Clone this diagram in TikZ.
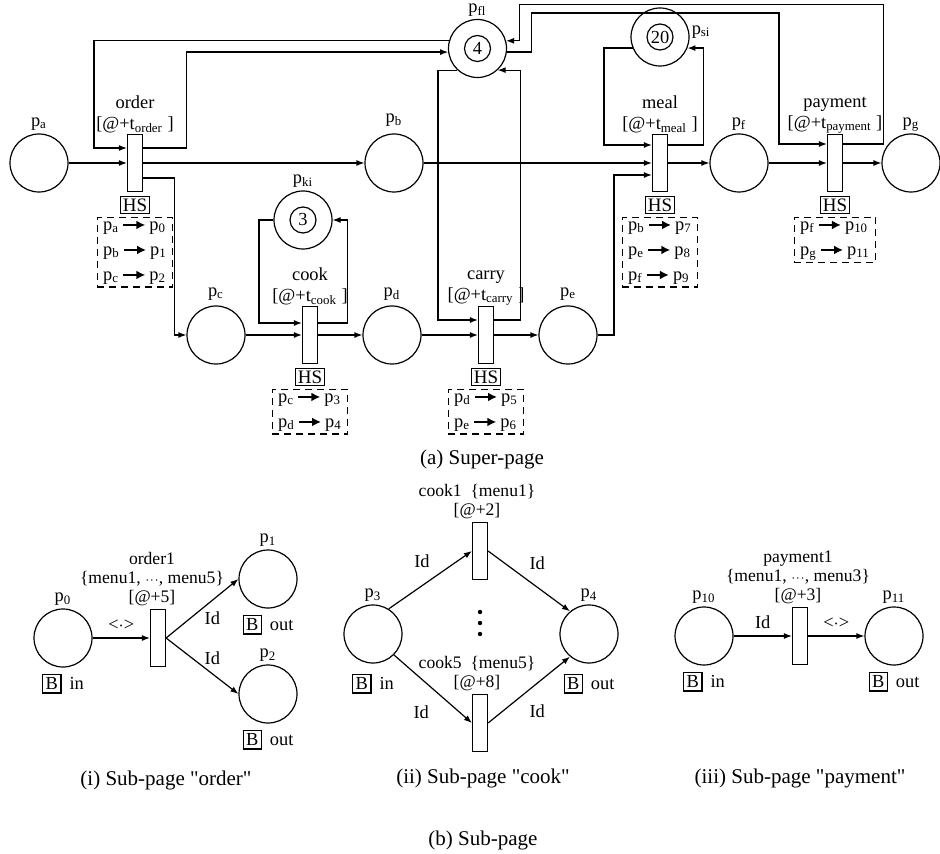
\documentclass[tikz,border=0pt]{standalone}
\usepackage{fontspec}
\setmainfont{Liberation Serif}
\usetikzlibrary{arrows.meta,positioning,calc}
\setlength{\fboxsep}{1.2pt}
\setlength{\fboxrule}{0.6pt}

\tikzset{
  place/.style={draw,circle,minimum size=29pt,inner sep=0pt},
  token/.style={draw,circle,minimum size=13pt,inner sep=0pt},
  trans/.style={draw,rectangle,minimum width=7.5pt,minimum height=28.5pt,inner sep=0pt},
  arc/.style={-{Latex[length=4pt,width=3pt]}},
  hsbox/.style={draw,inner sep=1pt,font=\fontsize{9.5}{10}\selectfont},
  mapbox/.style={draw,dashed,dash pattern=on 3.5pt off 2.5pt,align=left,inner xsep=3pt,inner ysep=1.5pt,font=\fontsize{9.2}{12.5}\selectfont},
  tlbl/.style={align=center,inner sep=1pt},
  sublbl/.style={align=center,inner sep=1pt,font=\fontsize{8.8}{9.5}\selectfont},
  port/.style={inner sep=0pt},
  caption/.style={font=\fontsize{10.5}{12}\selectfont},
  plbl/.style={inner sep=1pt},
}
\newcommand{\pp}[1]{p\textsubscript{#1}}
\newcommand{\maparrow}{\,\tikz[x=1pt,y=1pt,baseline=-0.6ex]\draw[line width=1.1pt,-{Latex[length=4.5pt,width=4.5pt]}] (0,0) -- (11,0);\,}
\newcommand{\bport}[1]{\fbox{B}\hspace{4pt}#1}
\newcommand{\dotsm}{$\scriptstyle{\cdot}{\cdot}{\cdot}$}
\newcommand{\qq}[1]{\textquotedbl #1\textquotedbl}

\begin{document}
\begin{tikzpicture}[x=0.5pt,y=-0.5pt,line width=0.6pt,every node/.style={font=\fontsize{9.2}{10.5}\selectfont}]
  \useasboundingbox (0,0) rectangle (940,854);

  % (a) super-page
  \node[place,label={[plbl]above:\pp{a}}] (pa) at (39,163) {};
  \node[trans] (order) at (135,163) {};
  \node[place,label={[plbl,label distance=2pt]above:\pp{b}}] (pb) at (394,163) {};
  \node[place,label={[plbl,label distance=1pt]above:\pp{c}}] (pc) at (216,335) {};
  \node[trans] (cook) at (310,335) {};
  \node[place,label={[plbl]above:\pp{ki}}] (pki) at (303,220) {};
  \node[token] at (pki) {3};
  \node[place,label={[plbl,label distance=1pt]above:\pp{d}}] (pd) at (392,335) {};
  \node[trans] (carry) at (486,335) {};
  \node[place,label={[plbl]above:\pp{fl}}] (pfl) at (477.5,48.5) {};
  \node[token] at (pfl) {4};
  \node[place,label={[plbl,label distance=1pt]above:\pp{e}}] (pe) at (568,335) {};
  \node[trans] (meal) at (660,163) {};
  \node[place,label={[plbl,anchor=west]10:\pp{si}}] (psi) at (660,37) {};
  \node[token] at (psi) {20};
  \node[place,label={[plbl]above:\pp{f}}] (pf) at (739,163) {};
  \node[trans] (payment) at (835,163) {};
  \node[place,label={[plbl]above:\pp{g}}] (pg) at (911,163) {};

  \node[tlbl,above=-1pt of order] {order\\{[}@+t\textsubscript{order} ]};
  \node[tlbl,above=-1pt of cook] {cook\\{[}@+t\textsubscript{cook} ]};
  \node[tlbl,above=-1pt of carry] {carry\\{[}@+t\textsubscript{carry} ]};
  \node[tlbl,above=-1pt of meal] {meal\\{[}@+t\textsubscript{meal} ]};
  \node[tlbl,above=-1pt of payment] {payment\\{[}@+t\textsubscript{payment} ]};

  \node[hsbox,below=2pt of order] (orderhs) {HS};
  \node[mapbox,below=1.5pt of orderhs] (ordermap) {\pp{a}\maparrow\pp{0}\\\pp{b}\maparrow\pp{1}\\\pp{c}\maparrow\pp{2}};
  \node[hsbox,below=2pt of cook] (cookhs) {HS};
  \node[mapbox,below=1.5pt of cookhs] (cookmap) {\pp{c}\maparrow\pp{3}\\\pp{d}\maparrow\pp{4}};
  \node[hsbox,below=2pt of carry] (carryhs) {HS};
  \node[mapbox,below=1.5pt of carryhs] (carrymap) {\pp{d}\maparrow\pp{5}\\\pp{e}\maparrow\pp{6}};
  \node[hsbox,below=2pt of meal] (mealhs) {HS};
  \node[mapbox,below=1.5pt of mealhs] (mealmap) {\pp{b}\maparrow\pp{7}\\\pp{e}\maparrow\pp{8}\\\pp{f}\maparrow\pp{9}};
  \node[hsbox,below=2pt of payment] (paymenths) {HS};
  \node[mapbox,below=1.5pt of paymenths] (paymentmap) {\pp{f}\maparrow\pp{10}\\\pp{g}\maparrow\pp{11}};

  % main flow
  \draw[arc] (pa) -- (order);
  \draw[arc] (order) -- (pb);
  \draw[arc] (pb) -- (meal);
  \draw[arc] (pc) -- (cook);
  \draw[arc] (cook) -- (pd);
  \draw[arc] (pd) -- (carry);
  \draw[arc] (carry) -- (pe);
  \draw[arc] (meal) -- (pf);
  \draw[arc] (pf) -- (payment);
  \draw[arc] (payment) -- (pg);
  \draw[arc] ($(order.east)+(0,15)$) -| ($(pc.west)+(-12,0)$) -- (pc.west);
  \draw[arc] (pe.east) -| ($(meal.west)+(-38,12)$) -- ($(meal.west)+(0,12)$);

  % resource loops
  \draw[arc] (pfl.165) -| ($(order.west)+(-33,-15)$) -- ($(order.west)+(0,-15)$);
  \draw[arc] ($(order.east)+(0,-15)$) -- ++(43,0) |- (pfl.187);
  \draw[arc] (pki.west) -| ($(cook.west)+(-43,-12)$) -- ($(cook.west)+(0,-12)$);
  \draw[arc] ($(cook.east)+(0,-12)$) -| ($(pki.east)+(15,0)$) -- (pki.east);
  \draw[arc] (pfl.-133) -| ($(carry.west)+(-40,-15)$) -- ($(carry.west)+(0,-15)$);
  \draw[arc] ($(carry.east)+(0,-15)$) -| ($(pfl.-47)+(23,0)$) -- (pfl.-47);
  \draw[arc] (psi.202) -| ($(meal.west)+(-48,-18)$) -- ($(meal.west)+(0,-18)$);
  \draw[arc] ($(meal.east)+(0,-18)$) -| ($(psi.-22)+(16,0)$) -- (psi.-22);
  \draw[arc] (pfl.-7) -- ++(25,0) -- ++(0,-39) -| ($(payment.west)+(-48,-19)$) -- ($(payment.west)+(0,-19)$);
  \draw[arc] ($(payment.east)+(0,-19)$) -- ++(40,0) |- ($(pfl.15)+(13,-36)$) |- (pfl.15);

  \node[caption] (capa) at (482,459) {(a) Super-page};

  % (i) sub-page order
  \node[place,label={[plbl]above:\pp{0}}] (p0) at (63,638) {};
  \node[trans] (order1) at (158,638) {};
  \node[place,label={[plbl]above:\pp{1}}] (p1) at (268,579) {};
  \node[place,label={[plbl]above:\pp{2}}] (p2) at (268,694) {};
  \node[sublbl,above=0pt of order1,xshift=-3pt] {order1\\\{menu1, \dotsm, menu5\}\\{[}@+5]};
  \node[port,below=3pt of p0] {\bport{in}};
  \node[port,below=3pt of p1] {\bport{out}};
  \node[port,below=3pt of p2] {\bport{out}};
  \draw[arc] (p0) -- node[above]{<$\cdot$>} (order1);
  \draw[arc] (order1.east) -- node[pos=0.64,below=2pt]{Id} (p1.west);
  \draw[arc] (order1.east) -- node[pos=0.64,above=1pt]{Id} (p2.west);
  \node[caption] (capi) at (166,780) {(i) Sub-page \qq{order}};

  % (ii) sub-page cook
  \node[place,label={[plbl]above:\pp{3}}] (p3) at (373,634) {};
  \node[trans] (cook1) at (480,551) {};
  \node[trans] (cook5) at (480,723) {};
  \node[place,label={[plbl]above:\pp{4}}] (p4) at (589,634) {};
  \node[sublbl,above=0pt of cook1,xshift=-1.5pt] {cook1 \ \{menu1\}\\{[}@+2]};
  \node[sublbl,above=0pt of cook5,xshift=-1.5pt] {cook5 \ \{menu5\}\\{[}@+8]};
  \node[port,below=5pt of p3] {\bport{in}};
  \node[port,below=5pt of p4] {\bport{out}};
  \draw[arc] (p3.58) -- node[pos=0.4,above=5.5pt]{Id} (cook1.west);
  \draw[arc] (cook1.east) -- node[pos=0.6,above=5pt]{Id} (p4.130);
  \draw[arc] (p3.-45) -- node[pos=0.35,below=10pt]{Id} (cook5.west);
  \draw[arc] (cook5.east) -- node[pos=0.6,below=7pt]{Id} (p4.-130);
  \foreach \y in {612,623,634}
    \fill (480,\y) circle[radius=1.1pt];
  \node[caption] (capii) at (483,778) {(ii) Sub-page \qq{cook}};

  % (iii) sub-page payment
  \node[place,label={[plbl]above:\pp{10}}] (p10) at (704,636) {};
  \node[trans] (payment1) at (800,636) {};
  \node[place,label={[plbl]above:\pp{11}}] (p11) at (894,636) {};
  \node[sublbl,above=0pt of payment1,xshift=-1pt] {payment1\\\{menu1, \dotsm, menu3\}\\{[}@+3]};
  \node[port,below=3pt of p10] {\bport{in}};
  \node[port,below=3pt of p11] {\bport{out}};
  \draw[arc] (p10) -- node[above]{Id} (payment1);
  \draw[arc] (payment1) -- node[above]{<$\cdot$>} (p11);
  \node[caption] (capiii) at (800,778) {(iii) Sub-page \qq{payment}};

  \node[caption] (capb) at (483,840) {(b) Sub-page};
\end{tikzpicture}
\end{document}
